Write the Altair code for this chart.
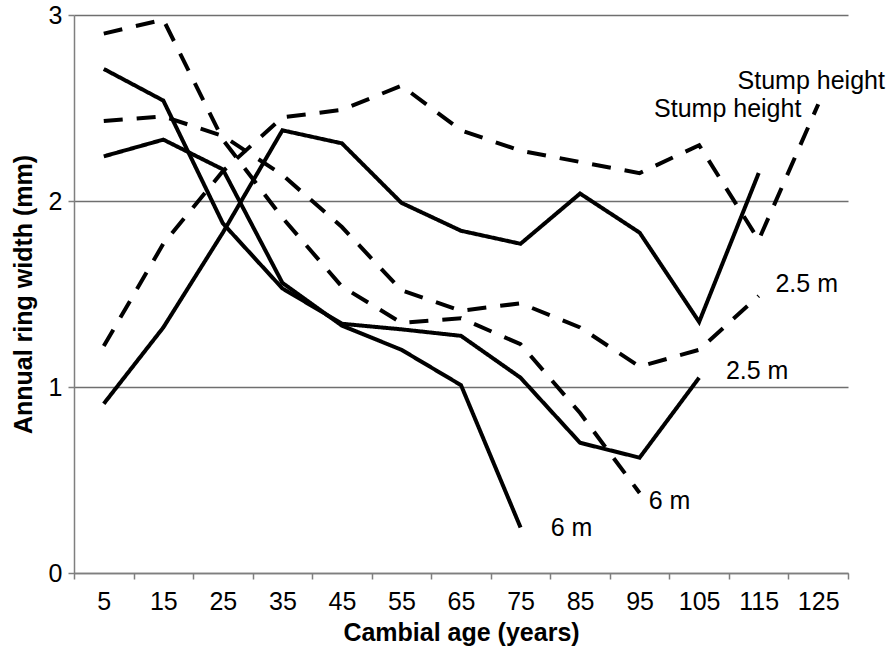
import altair as alt
import pandas as pd

# ---- data ----
ages = [5, 15, 25, 35, 45, 55, 65, 75, 85, 95, 105, 115, 125]

solid_stump = [0.91, 1.32, 1.83, 2.38, 2.31, 1.99, 1.84, 1.77, 2.04, 1.83, 1.35, 2.15]
solid_25m = [2.71, 2.54, 1.88, 1.53, 1.34, 1.31, 1.275, 1.05, 0.70, 0.62, 1.05]
solid_6m = [2.24, 2.33, 2.17, 1.56, 1.33, 1.20, 1.01, 0.245]

dashed_stump = [1.22, 1.77, 2.16, 2.45, 2.49, 2.62, 2.38, 2.27, 2.21, 2.15, 2.30, 1.79, 2.52]
dashed_25m = [2.43, 2.455, 2.35, 2.14, 1.86, 1.52, 1.41, 1.45, 1.32, 1.11, 1.20, 1.49]
dashed_6m = [2.90, 2.975, 2.33, 1.91, 1.54, 1.345, 1.37, 1.23, 0.86, 0.43]

series_names = ["solid_stump", "solid_25m", "solid_6m", "dashed_stump", "dashed_25m", "dashed_6m"]
series_values = [solid_stump, solid_25m, solid_6m, dashed_stump, dashed_25m, dashed_6m]
series_styles = ["solid", "solid", "solid", "dashed", "dashed", "dashed"]
series_labels = ["Stump height", "2.5 m", "6 m", "Stump height", "2.5 m", "6 m"]

rows = []
for name, vals, style, lab in zip(series_names, series_values, series_styles, series_labels):
    for a, v in zip(ages, vals):
        rows.append({"series": name, "age": a, "value": v, "style": style, "label": lab})
df = pd.DataFrame(rows)
ends = df.groupby("series", as_index=False).last()

FONT = "Liberation Sans"
AXIS_GRAY = "#7f7f7f"
FS = 25

x_enc = alt.X(
    "age:O",
    sort=ages,
    bandPosition=0.5,
    scale=alt.Scale(type="band", paddingInner=0, paddingOuter=0, domain=ages),
    axis=alt.Axis(
        title="Cambial age (years)",
        tickBand="extent",
        labelAngle=0,
        grid=False,
        domainColor=AXIS_GRAY,
        domainWidth=1.5,
        tickColor=AXIS_GRAY,
        tickWidth=1.5,
        tickSize=6,
        labelFont=FONT,
        labelFontSize=FS,
        labelColor="black",
        labelPadding=10,
        titleFont=FONT,
        titleFontSize=FS,
        titleFontWeight="bold",
        titleColor="black",
        titlePadding=6,
    ),
)

y_enc = alt.Y(
    "value:Q",
    scale=alt.Scale(domain=[0, 3], nice=False),
    axis=alt.Axis(
        title="Annual ring width (mm)",
        values=[0, 1, 2, 3],
        format="d",
        grid=True,
        gridColor="#6f6f6f",
        gridWidth=1.4,
        domainColor=AXIS_GRAY,
        domainWidth=1.5,
        tickColor=AXIS_GRAY,
        tickWidth=1.5,
        tickSize=6,
        labelFont=FONT,
        labelFontSize=FS,
        labelColor="black",
        labelPadding=6,
        titleFont=FONT,
        titleFontSize=FS,
        titleFontWeight="bold",
        titleColor="black",
        titlePadding=12,
    ),
)

lines = alt.Chart(df).mark_line(color="black", strokeWidth=4).encode(
    x=x_enc,
    y=y_enc,
    detail="series:N",
    strokeDash=alt.StrokeDash(
        "style:N",
        scale=alt.Scale(domain=["solid", "dashed"], range=[[1, 0], [19, 14]]),
        legend=None,
    ),
)

# label offsets (pixels) from each series' last point
label_offsets = {
    "dashed_stump": (-7, -23),
    "solid_stump": (-31, -64),
    "dashed_25m": (48, -12),
    "solid_25m": (58, -7),
    "dashed_6m": (30, 8),
    "solid_6m": (51, 1),
}

layers = [lines]
for name, (dx, dy) in label_offsets.items():
    layers.append(
        alt.Chart(ends)
        .transform_filter(alt.datum.series == name)
        .mark_text(font=FONT, fontSize=FS, color="black", align="center", baseline="middle", dx=dx, dy=dy)
        .encode(x=alt.X("age:O", sort=ages, bandPosition=0.5), y="value:Q", text="label:N")
    )

chart = (
    alt.layer(*layers)
    .properties(
        width=774,
        height=558,
        autosize=alt.AutoSizeParams(type="none"),
        padding={"left": 74, "top": 15, "right": 42, "bottom": 81},
        background="white",
    )
    .configure_view(stroke=None)
)

chart.save("out.html", embed_options={"renderer": "svg", "actions": False})
